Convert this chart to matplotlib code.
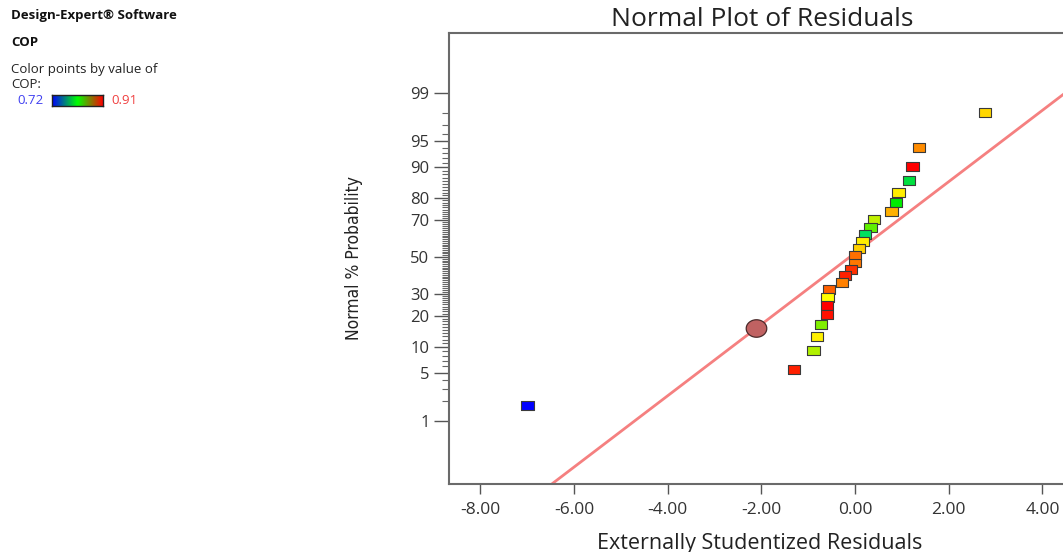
import numpy as np
import matplotlib
matplotlib.use('Agg')
import matplotlib.pyplot as plt
from matplotlib.colors import LinearSegmentedColormap
from statistics import NormalDist

# residuals and normal % probability
residuals = [2.78, 1.37, 1.23, 1.15, 0.93, 0.88, 0.78, 0.41, 0.33, 0.21, 0.16, 0.09, 0.00,
             0.00, -0.09, -0.21, -0.28, -0.56, -0.59, -0.60, -0.60, -0.73, -0.81, -0.89, -1.30, -6.99]
probability = [98.0, 94.1, 90.0, 86.1, 82.1, 78.2, 74.2, 70.4, 66.5, 62.7, 58.6, 54.9, 51.0,
               46.6, 43.1, 39.5, 35.7, 32.1, 28.3, 24.4, 20.6, 16.7, 13.0, 9.1, 5.45, 1.74]
point_colors = ['#FFD700', '#FF8C00', '#FF0000', '#00E040', '#FFEE00', '#00EE00', '#FFB000',
                '#C0F000', '#60F000', '#00E060', '#FFEE00', '#FFD000', '#FF7000', '#FF7800',
                '#FF3000', '#FF2000', '#FF8000', '#FF6000', '#FFFF00', '#FF0000', '#FF1000',
                '#80F000', '#FFF000', '#B0F000', '#FF2000', '#0000FF']

highlight_x = -2.11
highlight_p = 15.5

line_mu = -0.11
line_sigma = 1.97

major_probs = [1, 5, 10, 20, 30, 50, 70, 80, 90, 95, 99]
minor_probs = [p for p in range(2, 99) if p not in major_probs]
x_ticks = [-8, -6, -4, -2, 0, 2, 4]

nd = NormalDist()
def probit(p):
    return nd.inv_cdf(p / 100.0)

W, H = 1063, 552
fig = plt.figure(figsize=(W / 100, H / 100), dpi=100)
plt.rcParams['font.family'] = ['Open Sans', 'DejaVu Sans']

ax = fig.add_axes([449 / W, 1 - 484 / H, 626 / W, 451 / H])
ax.set_xlim(-8.666, 4.696)
ax.set_ylim(-3.229, 3.186)

# fitted normal line
xs = np.array([-9.0, 5.0])
ax.plot(xs, (xs - line_mu) / line_sigma, color='#F58080', lw=2.0, zorder=2)

rect = [(-1, -0.72), (1, -0.72), (1, 0.72), (-1, 0.72), (-1, -0.72)]
ax.scatter(residuals, [probit(p) for p in probability], marker=rect, s=80,
           c=point_colors, edgecolors='#3a3a3a', linewidths=0.8, zorder=3)

ell = [(np.cos(t), 0.85 * np.sin(t)) for t in np.linspace(0, 2 * np.pi, 40)]
ax.scatter([highlight_x], [probit(highlight_p)], marker=ell, s=220,
           c='#C06262', edgecolors='#4a2a2a', linewidths=0.9, zorder=4)

ax.set_xticks(x_ticks)
ax.set_xticklabels([f'{v:.2f}' for v in x_ticks])
ax.set_yticks([probit(p) for p in major_probs])
ax.set_yticklabels([str(p) for p in major_probs])
ax.set_yticks([probit(p) for p in minor_probs], minor=True)
ax.tick_params(axis='y', which='major', length=11, width=1.0, color='#555555',
               labelsize=12, labelcolor='#333333', pad=3)
ax.tick_params(axis='y', which='minor', length=5, width=0.8, color='#666666')
ax.tick_params(axis='x', length=7, width=1.0, color='#555555',
               labelsize=12.5, labelcolor='#333333', pad=6)
for side in ['left', 'top', 'bottom', 'right']:
    ax.spines[side].set_color('#6a6a6a')
    ax.spines[side].set_linewidth(1.5)

fig.text(762 / W, 1 - 19 / H, 'Normal Plot of Residuals', ha='center', va='center',
         fontsize=19, color='#222222')
fig.text(760 / W, 1 - 543 / H, 'Externally Studentized Residuals', ha='center', va='center',
         fontsize=15.5, color='#222222')
fig.text(354 / W, 1 - 258 / H, 'Normal % Probability', ha='center', va='center',
         rotation=90, fontsize=12.5, color='#222222', fontstretch='condensed',
         family=['DejaVu Sans', 'Liberation Sans'])

# legend block at top left
fig.text(11 / W, 1 - 16 / H, 'Design-Expert\u00ae Software', ha='left', va='center',
         fontsize=9.5, fontweight='bold', color='#111111')
fig.text(11 / W, 1 - 43 / H, 'COP', ha='left', va='center',
         fontsize=9.5, fontweight='bold', color='#111111')
fig.text(11 / W, 1 - 70 / H, 'Color points by value of', ha='left', va='center',
         fontsize=9.5, color='#222222')
fig.text(11 / W, 1 - 85 / H, 'COP:', ha='left', va='center', fontsize=9.5, color='#222222')
fig.text(17 / W, 1 - 101 / H, '0.72', ha='left', va='center', fontsize=9.5, color='#4040F0')
fig.text(111 / W, 1 - 101 / H, '0.91', ha='left', va='center', fontsize=9.5, color='#F04040')

cmap = LinearSegmentedColormap.from_list('de', ['#0000FF', '#00FF00', '#FF0000'])
cax = fig.add_axes([52 / W, 1 - 106 / H, 51 / W, 11 / H])
cax.imshow(np.linspace(0, 1, 256)[None, :], aspect='auto', cmap=cmap)
cax.set_xticks([])
cax.set_yticks([])
for s in cax.spines.values():
    s.set_color('#222222')
    s.set_linewidth(1.0)

fig.savefig('out.png', dpi=100)
